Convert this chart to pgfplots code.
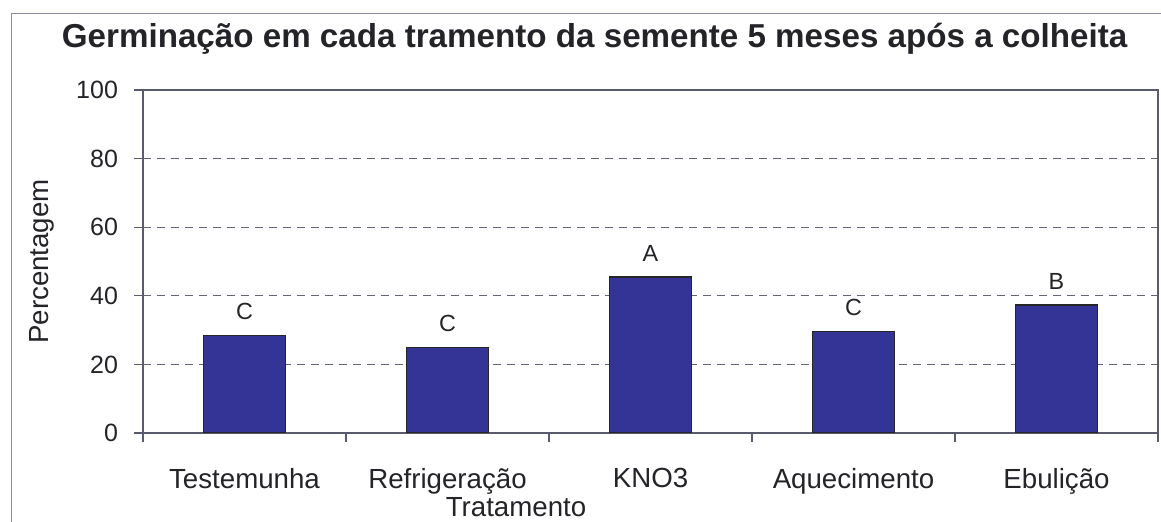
\documentclass[border=0pt]{standalone}
\usepackage{pgfplots}
\pgfplotsset{compat=1.18}
\usepackage{fontspec}
\setmainfont{Liberation Sans}

\definecolor{barblue}{RGB}{52,52,150}
\definecolor{axisgray}{RGB}{90,90,110}
\definecolor{gridgray}{RGB}{100,100,115}
\definecolor{txt}{RGB}{35,35,40}

\begin{document}
\begin{tikzpicture}
% page = 1161x522 px at 0.6pt per px, plot area at (143..1158, 90..433)
\path[use as bounding box] (-85.8pt,-53.4pt) rectangle (610.8pt,259.8pt);
\begin{scope}
  \clip (-85.8pt,-53.4pt) rectangle (610.8pt,259.8pt);
  \draw[axisgray!70, line width=0.6pt] (-78.6pt,-70pt) -- (-78.6pt,251.4pt) -- (640pt,251.4pt);
\end{scope}
\begin{axis}[
  scale only axis,
  width=609pt, height=205.8pt,
  at={(0,0)}, anchor=south west,
  ybar, bar width=49pt,
  xmin=-0.5, xmax=4.5,
  ymin=0, ymax=100,
  ytick={0,20,40,60,80,100},
  xtick={-0.5,0.5,1.5,2.5,3.5,4.5},
  xticklabels={},
  extra x ticks={0,1,2,3,4},
  extra x tick labels={Testemunha,Refrigeração,KNO3,Aquecimento,Ebulição},
  extra x tick style={tick style={draw=none}},
  xtick pos=bottom, ytick pos=left,
  major tick length=5.5pt,
  tick align=outside,
  tick style={axisgray, line width=0.8pt},
  axis line style={axisgray, line width=0.8pt},
  ymajorgrids,
  major grid style={gridgray, dash pattern=on 4.8pt off 3.6pt, line width=0.5pt},
  yticklabel style={font=\fontsize{15}{15}\selectfont, text=txt, xshift=-6pt},
  xticklabel style={font=\fontsize{16.6}{16.6}\selectfont, text=txt, yshift=-12pt},
  /pgf/number format/assume math mode=true,
  title={Germinação em cada tramento da semente 5 meses após a colheita},
  title style={font=\bfseries\fontsize{19.9}{19.9}\selectfont, text=txt,
    at={(axis description cs:0.445,1.1195)}, anchor=center},
  xlabel={Tratamento},
  xlabel style={font=\fontsize{16.6}{16.6}\selectfont, text=txt,
    at={(axis description cs:0.3675,-0.2157)}, anchor=center},
  ylabel={Percentagem},
  ylabel style={font=\fontsize{16.6}{16.6}\selectfont, text=txt,
    at={(axis description cs:-0.0995,0.5)}, anchor=center},
  nodes near coords,
  point meta=explicit symbolic,
  nodes near coords style={font=\fontsize{14}{14}\selectfont, text=txt,
    inner sep=0pt, anchor=south, yshift=9pt},
]
\addplot[fill=barblue, draw=black!85, line width=0.8pt]
  coordinates {(0,28.5) [C] (1,25) [C] (2,45.5) [A] (3,29.5) [C] (4,37.3) [B]};
\end{axis}
\end{tikzpicture}
\end{document}
